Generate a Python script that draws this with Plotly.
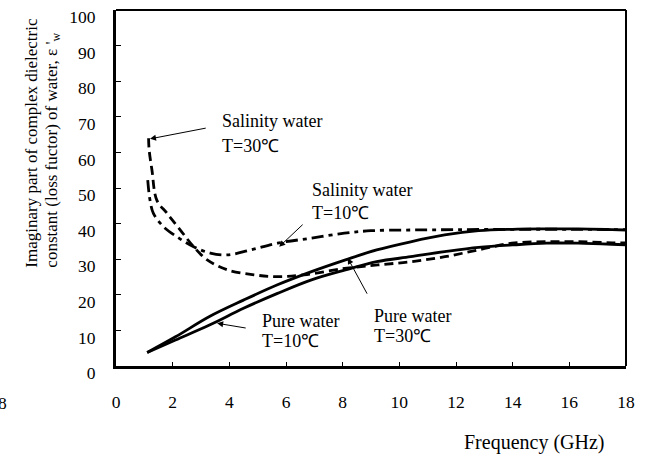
import plotly.graph_objects as go

# ---- data ----
pure30_x = [1.1, 2.1, 3.3, 4.5, 5.7, 6.9, 8.1, 9.2, 10.4, 11.6, 12.8, 14.0, 15.2, 16.3, 17.5, 18.0]
pure30_y = [3.8, 8.2, 13.9, 18.5, 22.8, 26.5, 29.8, 32.6, 34.9, 36.8, 38.0, 38.4, 38.5, 38.5, 38.3, 38.2]

pure10_x = [1.1, 2.1, 3.3, 4.5, 5.7, 6.9, 8.1, 9.2, 10.4, 11.6, 12.8, 14.0, 15.2, 16.3, 17.5, 18.0]
pure10_y = [3.8, 7.3, 11.5, 16.2, 20.4, 24.2, 27.0, 29.3, 30.7, 32.1, 33.3, 34.0, 34.5, 34.5, 34.2, 34.0]

sal10_x = [1.12, 1.2, 1.32, 1.68, 2.15, 2.74, 3.33, 3.93, 4.75, 5.7, 6.88, 8.06, 9.0, 10.4, 12.0, 14.0, 16.0, 18.0]
sal10_y = [52.2, 46.6, 42.9, 39.1, 36.3, 33.5, 31.7, 31.2, 32.6, 34.5, 35.9, 37.3, 38.0, 38.2, 38.3, 38.4, 38.4, 38.3]

sal30_x = [1.15, 1.17, 1.27, 1.44, 1.8, 2.27, 2.74, 3.22, 3.93, 4.87, 5.7, 6.64, 8.06, 9.24, 10.43, 11.61, 12.79, 13.97, 15.15, 16.34, 17.52, 18.0]
sal30_y = [64.0, 60.7, 55.0, 46.6, 42.9, 38.2, 33.5, 29.8, 27.0, 25.6, 25.1, 25.6, 27.4, 28.4, 29.3, 30.7, 32.6, 34.5, 34.9, 34.9, 34.6, 34.6]

x_ticks = [0, 2, 4, 6, 8, 10, 12, 14, 16, 18]
y_ticks = [0, 10, 20, 30, 40, 50, 60, 70, 80, 90, 100]

FONT = "Liberation Serif"

fig = go.Figure()
fig.add_trace(go.Scatter(x=pure30_x, y=pure30_y, mode="lines", line=dict(color="black", width=2.8, shape="spline")))
fig.add_trace(go.Scatter(x=pure10_x, y=pure10_y, mode="lines", line=dict(color="black", width=2.8, shape="spline")))
fig.add_trace(go.Scatter(x=sal10_x, y=sal10_y, mode="lines",
                         line=dict(color="black", width=2.8, shape="spline", dash="12px,5px,4px,5px")))
fig.add_trace(go.Scatter(x=sal30_x, y=sal30_y, mode="lines",
                         line=dict(color="black", width=2.8, shape="spline", dash="9px,5px")))

ann = []
def txt(x, y, t):
    ann.append(dict(x=x, y=y, xref="x", yref="y", text=t, showarrow=False,
                    xanchor="left", yanchor="middle", font=dict(family=FONT, size=18, color="black")))

txt(3.67, 68.8, "Salinity water")
txt(3.67, 61.8, "T=30℃")
txt(6.85, 49.4, "Salinity water")
txt(6.85, 43.0, "T=10℃")
txt(5.08, 12.6, "Pure water")
txt(5.08, 7.0, "T=10℃")
txt(9.04, 14.0, "Pure water")
txt(9.04, 8.4, "T=30℃")

def arrow(x, y, ax, ay):
    ann.append(dict(x=x, y=y, ax=ax, ay=ay, xref="x", yref="y", axref="x", ayref="y",
                    text="", showarrow=True, arrowhead=2, arrowsize=1.2, arrowwidth=1, arrowcolor="black"))

arrow(1.2, 63.8, 3.22, 66.9)
arrow(5.76, 33.5, 6.64, 40.1)
arrow(3.57, 12.0, 4.63, 10.6)
arrow(8.18, 30.3, 8.89, 19.9)

ann.append(dict(x=0.820, y=-0.216, xref="paper", yref="paper", text="Frequency (GHz)", showarrow=False,
                xanchor="center", yanchor="middle", font=dict(family=FONT, size=20, color="black")))
ann.append(dict(x=-0.209, y=-0.105, xref="paper", yref="paper", text="8", showarrow=False,
                xanchor="right", yanchor="middle", font=dict(family=FONT, size=17.5, color="black")))
ann.append(dict(x=-0.165, y=0.27, xref="paper", yref="paper", text="Imaginary part of complex dielectric",
                showarrow=False, textangle=-90, xanchor="center", yanchor="bottom",
                font=dict(family=FONT, size=17, color="black")))
ann.append(dict(x=-0.123, y=0.27, xref="paper", yref="paper",
                text="constant (loss fuctor) of water, ε '<sub>w</sub>",
                showarrow=False, textangle=-90, xanchor="center", yanchor="bottom",
                font=dict(family=FONT, size=17, color="black")))

fig.update_layout(
    width=645, height=461,
    margin=dict(l=116, r=19, t=10, b=95),
    paper_bgcolor="white", plot_bgcolor="white",
    showlegend=False,
    annotations=ann,
    shapes=[
        dict(type="line", xref="paper", yref="paper", x0=0, x1=1, y0=1, y1=1, line=dict(color="black", width=2)),
        dict(type="line", xref="paper", yref="paper", x0=1, x1=1, y0=0, y1=1, line=dict(color="black", width=2)),
    ],
    font=dict(family=FONT, size=17.5, color="black"),
)
fig.update_xaxes(range=[0, 18], tickvals=x_ticks, showgrid=False, zeroline=False, automargin=False,
                 showline=True, linecolor="black", linewidth=3,
                 ticks="inside", ticklen=4, tickwidth=1, tickcolor="black", ticklabeloverflow="allow",
                 ticklabelstandoff=18, tickfont=dict(family=FONT, size=17.5))
fig.update_yaxes(range=[0, 100], tickvals=y_ticks, showgrid=False, zeroline=False, automargin=False,
                 showline=True, linecolor="black", linewidth=3,
                 ticks="inside", ticklen=5, tickwidth=1, tickcolor="black", ticklabeloverflow="allow",
                 ticklabelstandoff=14, ticklabelshift=7, tickfont=dict(family=FONT, size=17.5))

fig.write_html("out.html", config={"displayModeBar": False},
               post_script="document.body.style.margin='0';document.body.style.padding='0';")
